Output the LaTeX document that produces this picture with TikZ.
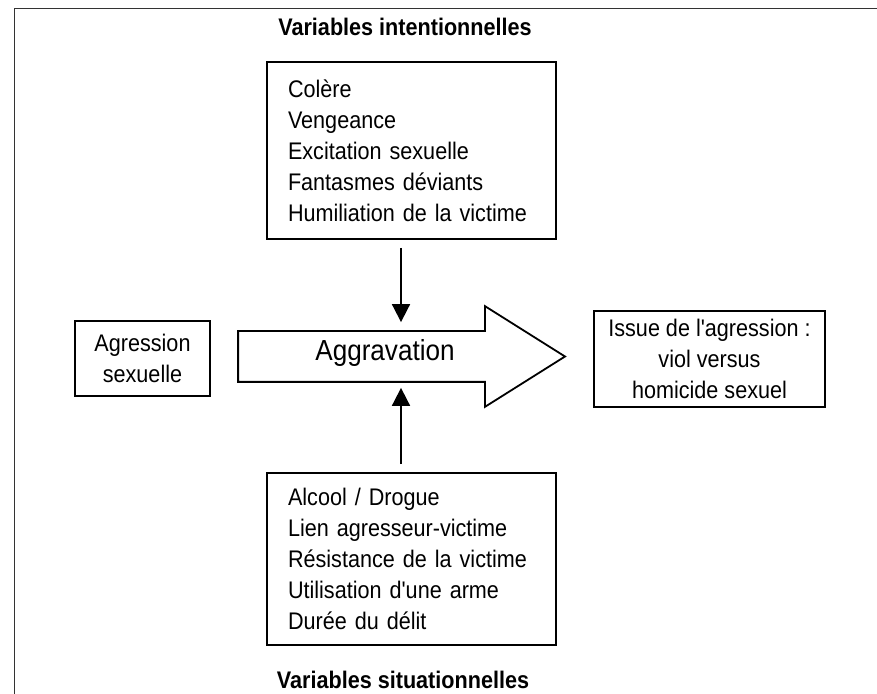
\documentclass[tikz,border=0pt]{standalone}
\usepackage{fontspec}
\setmainfont{Liberation Sans}[Ligatures=TeXOff, FakeStretch=0.9]
\usetikzlibrary{arrows.meta,positioning}

\begin{document}
\begin{tikzpicture}[%
    x=0.5pt, y=-0.5pt,          % one unit is one pixel of the scan, y going down
    >={Triangle[length=9pt,width=9pt]},
    line width=0.9pt,
    every node/.style={font=\fontsize{12}{15.5}\selectfont}]
% -------------------------------------------------
% Box styles
\tikzset{
  base/.style={draw, inner sep=0pt},
  list/.style={base, align=left, text width=123.5pt, inner xsep=10.5pt},
  term/.style={base, align=center},
  title/.style={font=\fontsize{12}{13}\selectfont\bfseries},
  infl/.style={->, draw, shorten <=4pt}
}
\useasboundingbox (0,0) rectangle (877,694);
% the outer frame, cut by the scan on the right and below
\draw [line width=0.5pt, black!80] (14,694) |- (877,9);

% -------------------------------------------------
% Top and bottom lists with their titles
\node [title] (tint) at (405,27) {Variables intentionnelles};
\node [list, minimum height=88.5pt] (vint) at (411.5,150.5)
  {Colère\\Vengeance\\Excitation sexuelle\\Fantasmes déviants\\Humiliation de la victime};

\node [list, minimum height=86pt] (vsit) at (411.5,559)
  {Alcool / Drogue\\Lien agresseur-victime\\Résistance de la victime\\Utilisation d'une arme\\Durée du délit};
\node [title] (tsit) at (403,680) {Variables situationnelles};

% -------------------------------------------------
% Middle row
\node [term, minimum width=67.5pt, minimum height=37.5pt] (agr) at (142.5,358.5)
  {Agression\\sexuelle};
\node [term, minimum width=115.5pt, minimum height=48pt] (iss) at (709.5,359)
  {Issue de l'agression :\\viol versus\\homicide sexuel};

% the big hollow arrow, built on its shaft
\node [minimum width=122.5pt, minimum height=24.5pt, inner sep=0pt] (shaft) at (361.5,356.5) {};
\coordinate (tip) at (565,356.5);
\draw [line join=miter] (shaft.north east) -- (shaft.north west) -- (shaft.south west)
  -- (shaft.south east) -- ([yshift=-12.5pt]shaft.south east) -- (tip)
  -- ([yshift=12.5pt]shaft.north east) -- cycle;
\node (aggr) at (385,353) {\fontsize{14.5}{16}\selectfont Aggravation};

% -------------------------------------------------
% The two influences on the aggravation
\draw [infl, shorten >=4.5pt] ([xshift=-5.25pt]vint.south) -- ([xshift=-5.25pt]vint.south |- shaft.north);
\draw [infl, shorten >=3pt] ([xshift=-5.25pt]vsit.north) -- ([xshift=-5.25pt]vsit.north |- shaft.south);
\end{tikzpicture}
\end{document}
